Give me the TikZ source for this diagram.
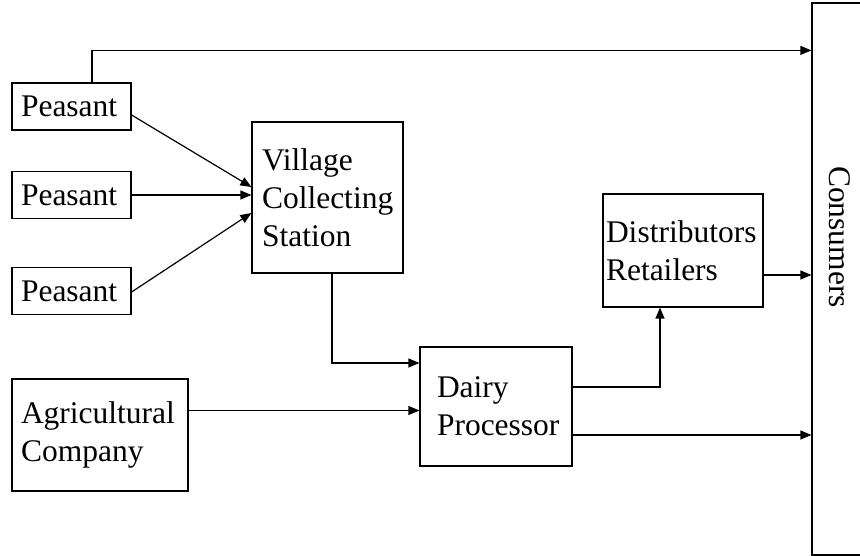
\documentclass[tikz,border=0pt]{standalone}
\usepackage{fontspec}
\setmainfont{Liberation Serif}
\usetikzlibrary{arrows.meta}

\tikzset{
    box/.style={draw,line width=1.2pt,align=left,inner ysep=0pt,font=\fontsize{31.5}{37.8}\selectfont},
    arr/.style={line width=1.2pt,-{Triangle[length=11pt,width=9pt]}}
}

\begin{document}
\begin{tikzpicture}[x=1pt,y=-1pt]
\useasboundingbox (0,0) rectangle (860,556);

\foreach \n/\y in {pa/106.5,pb/195,pc/291}{
    \node[box,inner xsep=9pt,text width=101pt,minimum height=47pt] at (71.5,\y)(\n){Peasant};
}
\node[box,inner xsep=10pt,text width=131pt,minimum height=151pt] at (327.5,197.5)(vcs){Village\\Collecting\\Station};
\node[box,inner xsep=9pt,text width=158pt,minimum height=112pt] at (100,435)(agri){Agricultural\\Company};
\node[box,inner xsep=17pt,text width=118pt,minimum height=119pt] at (496,406.5)(dairy){Dairy\\Processor};
\node[box,inner xsep=3pt,text width=154pt,minimum height=113pt] at (683,250.5)(dist){Distributors\\Retailers};
\node[box,minimum width=56pt,minimum height=552pt] at (840,279)(cons){};
\node[font=\fontsize{31.5}{37.8}\selectfont,rotate=-90,inner sep=0pt] at (839.5,237)(constext){Consumers};

% peasants
\draw[arr] ([xshift=20.5pt]pa.north) |- ([yshift=-48pt]cons.north west);
\draw[arr] ([yshift=-8.5pt]pa.east) -- ([yshift=10.5pt]vcs.west);
\draw[arr] (pb.east) -- (pb.east -| vcs.west);
\draw[arr] ([yshift=-1pt]pc.east) -- ([yshift=-15.5pt]vcs.west);

% processing
\draw[arr] ([xshift=4.5pt]vcs.south) |- ([yshift=43.5pt]dairy.west);
\draw[arr] ([yshift=24.5pt]agri.east) -- ([yshift=24.5pt]agri.east -| dairy.west);
\draw[arr] ([yshift=19.5pt]dairy.east) -| ([xshift=-23pt]dist.south);
\draw[arr] ([yshift=-28.5pt]dairy.east) -- ([yshift=-28.5pt]dairy.east -| cons.west);
\draw[arr] ([yshift=-24.5pt]dist.east) -- ([yshift=-24.5pt]dist.east -| cons.west);
\end{tikzpicture}
\end{document}
